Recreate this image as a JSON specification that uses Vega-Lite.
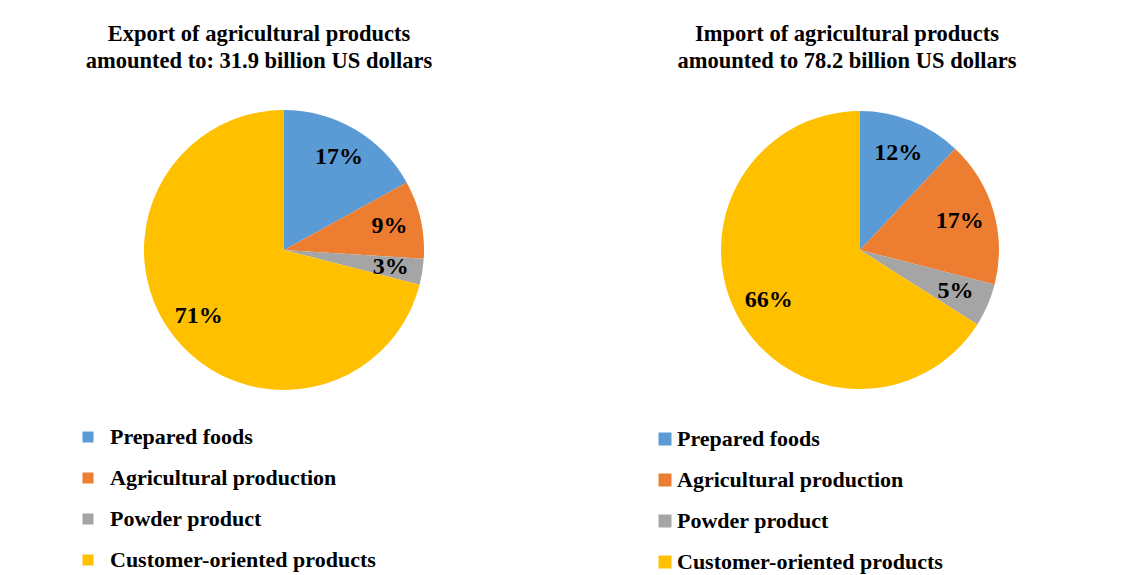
{
  "$schema": "https://vega.github.io/schema/vega-lite/v6.json",
  "background": "white",
  "padding": {"left": 6, "top": 10, "right": 0, "bottom": 0},
  "autosize": {"type": "pad"},
  "spacing": 27,
  "datasets": {
    "export": [
      {"category": "Prepared foods", "share": 0.17, "idx": 1},
      {"category": "Agricultural production", "share": 0.09, "idx": 2},
      {"category": "Powder product", "share": 0.03, "idx": 3},
      {"category": "Customer-oriented products", "share": 0.71, "idx": 4}
    ],
    "import": [
      {"category": "Prepared foods", "share": 0.12, "idx": 1},
      {"category": "Agricultural production", "share": 0.17, "idx": 2},
      {"category": "Powder product", "share": 0.05, "idx": 3},
      {"category": "Customer-oriented products", "share": 0.66, "idx": 4}
    ]
  },
  "hconcat": [
    {
      "width": 556,
      "height": 480,
      "data": {"name": "export"},
      "title": {
        "text": ["Export of agricultural products", "amounted to: 31.9 billion US dollars"],
        "fontSize": 22.5, "font": "Liberation Serif", "fontWeight": "bold", "color": "black",
        "anchor": "middle", "frame": "group", "offset": -80, "baseline": "alphabetic",
        "dx": -25, "lineHeight": 27
      },
      "encoding": {
        "theta": {"field": "share", "type": "quantitative", "stack": true},
        "order": {"field": "idx", "type": "quantitative"},
        "color": {
          "field": "category", "type": "nominal", "sort": null,
          "scale": {
            "domain": ["Prepared foods", "Agricultural production", "Powder product", "Customer-oriented products"],
            "range": ["#5B9BD5", "#ED7D31", "#A5A5A5", "#FFC000"]
          },
          "legend": {
            "orient": "none", "legendX": 60, "legendY": 405, "title": null,
            "fillColor": "white", "padding": 11, "symbolType": "square", "symbolSize": 121,
            "symbolStrokeWidth": 0, "labelFont": "Liberation Serif", "labelFontSize": 22,
            "labelFontWeight": "bold", "labelColor": "black", "labelOffset": 11,
            "rowPadding": 19, "labelLimit": 400
          }
        }
      },
      "layer": [
        {"mark": {"type": "arc", "outerRadius": 140}},
        {
          "mark": {"type": "text", "radius": 108, "fontSize": 24, "fontWeight": "bold", "font": "Liberation Serif"},
          "encoding": {
            "text": {"field": "share", "type": "quantitative", "format": ".0%"},
            "color": {"value": "black"},
            "detail": {"field": "category", "type": "nominal"}
          }
        }
      ]
    },
    {
      "width": 542,
      "height": 480,
      "data": {"name": "import"},
      "title": {
        "text": ["Import of agricultural products", "amounted to 78.2 billion US dollars"],
        "fontSize": 22.5, "font": "Liberation Serif", "fontWeight": "bold", "color": "black",
        "anchor": "middle", "frame": "group", "offset": -80, "baseline": "alphabetic",
        "dx": -13, "lineHeight": 27
      },
      "encoding": {
        "theta": {"field": "share", "type": "quantitative", "stack": true},
        "order": {"field": "idx", "type": "quantitative"},
        "color": {
          "field": "category", "type": "nominal", "sort": null,
          "scale": {
            "domain": ["Prepared foods", "Agricultural production", "Powder product", "Customer-oriented products"],
            "range": ["#5B9BD5", "#ED7D31", "#A5A5A5", "#FFC000"]
          },
          "legend": {
            "orient": "none", "legendX": 52, "legendY": 405, "title": null,
            "fillColor": "white", "padding": 13, "symbolType": "square", "symbolSize": 169,
            "symbolStrokeWidth": 0, "labelFont": "Liberation Serif", "labelFontSize": 22,
            "labelFontWeight": "bold", "labelColor": "black", "labelOffset": 1,
            "rowPadding": 19, "labelLimit": 400
          }
        }
      },
      "layer": [
        {"mark": {"type": "arc", "outerRadius": 139}},
        {
          "mark": {"type": "text", "radius": 104, "fontSize": 24, "fontWeight": "bold", "font": "Liberation Serif"},
          "encoding": {
            "text": {"field": "share", "type": "quantitative", "format": ".0%"},
            "color": {"value": "black"},
            "detail": {"field": "category", "type": "nominal"}
          }
        }
      ]
    }
  ],
  "resolve": {"scale": {"color": "independent", "theta": "independent"}, "legend": {"color": "independent"}},
  "config": {
    "font": "Liberation Serif",
    "view": {"fill": "#f4f4f4", "stroke": null}
  }
}
